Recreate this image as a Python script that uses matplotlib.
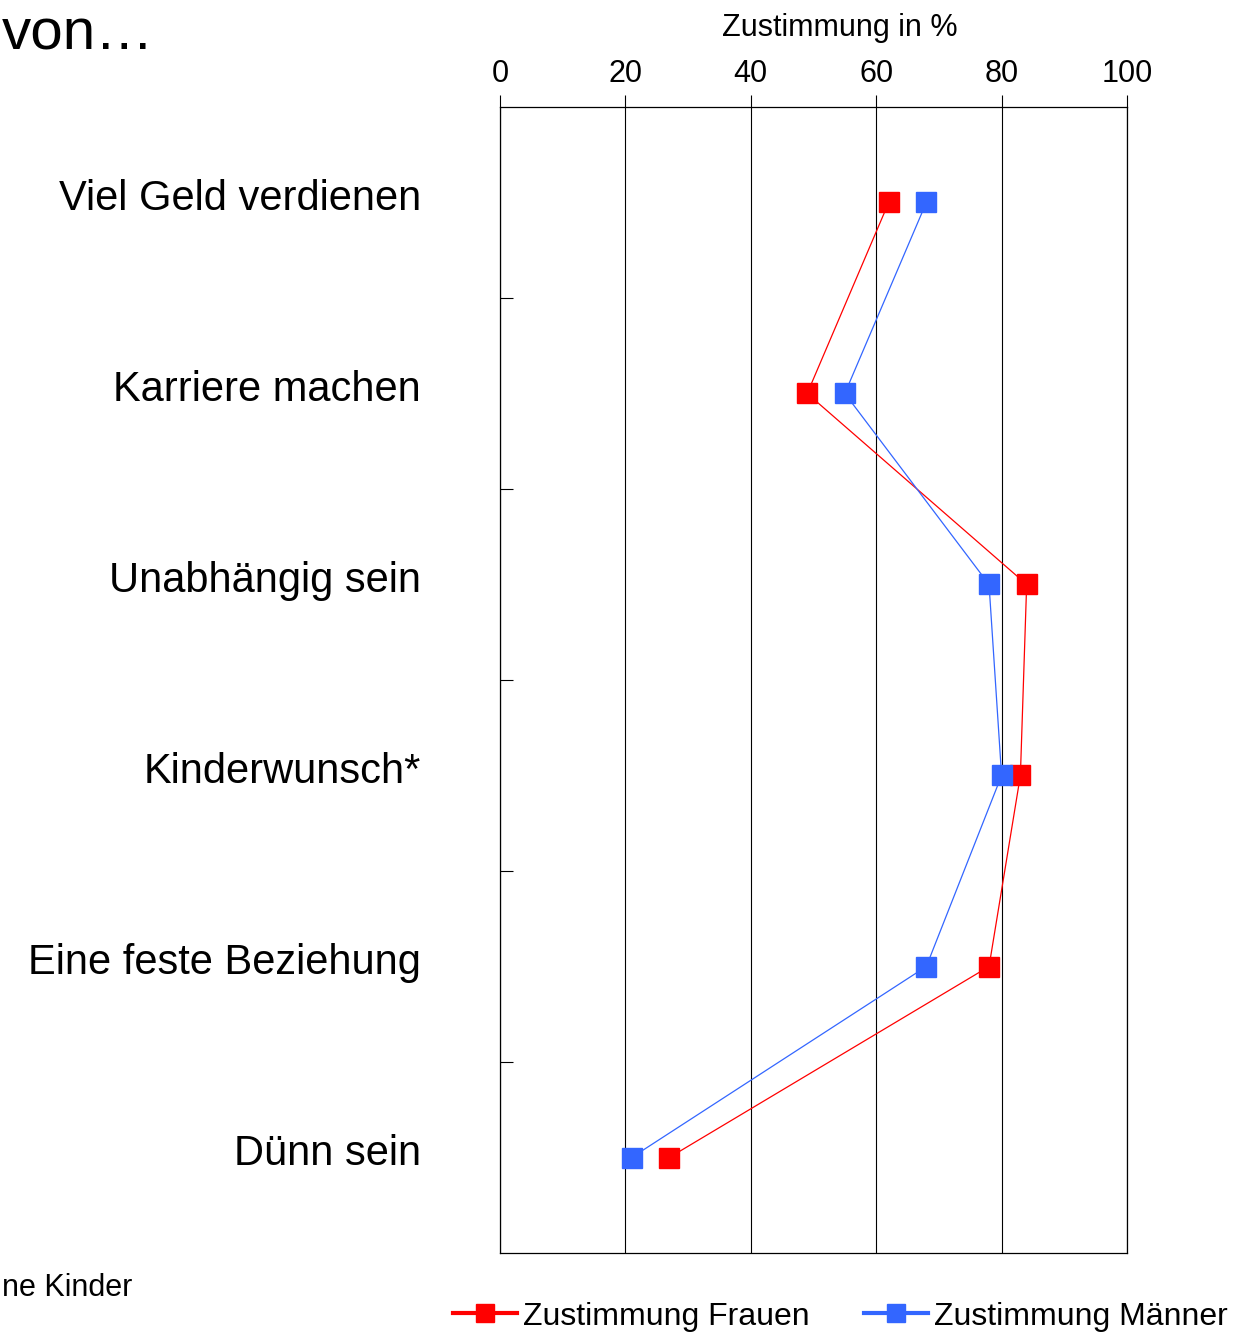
import numpy as np
import matplotlib
matplotlib.use("Agg")
import matplotlib.pyplot as plt
import matplotlib.transforms as mtransforms
from matplotlib.lines import Line2D

plt.rcParams['font.family'] = ['Liberation Sans', 'DejaVu Sans']

# Daten
kategorien = ['Viel Geld verdienen', 'Karriere machen', 'Unabhängig sein',
              'Kinderwunsch*', 'Eine feste Beziehung', 'Dünn sein']
frauen = [62, 49, 84, 83, 78, 27]
maenner = [68, 55, 78, 80, 68, 21]
x_ticks = [0, 20, 40, 60, 80, 100]

rot = '#FF0000'
blau = '#3366FF'

fig = plt.figure(figsize=(12.36, 13.42), dpi=100)
ax = fig.add_axes([0.4045, 0.0663, 0.5073, 0.854])

pos = np.arange(len(kategorien))
ax.plot(frauen, pos, color=rot, lw=0.9, marker='s', ms=14, mec=rot, mfc=rot, zorder=3)
ax.plot(maenner, pos, color=blau, lw=0.9, marker='s', ms=14, mec=blau, mfc=blau, zorder=3)

ax.set_xlim(0, 100)
ax.set_ylim(len(kategorien) - 0.5, -0.5)

# x-Achse oben
ax.xaxis.tick_top()
ax.set_xticks(x_ticks)
ax.tick_params(axis='x', direction='out', length=9, width=0.8, labelsize=22, pad=4)
ax.grid(axis='x', color='black', lw=0.8)
ax.set_xlabel('Zustimmung in %', fontsize=22)
ax.xaxis.set_label_position('top')
ax.xaxis.set_label_coords(0.542, 1.062)

# y-Achse: Kategorien (etwas nach oben versetzt) + kleine Striche dazwischen
ax.set_yticks(pos)
ax.set_yticklabels(kategorien, fontsize=30)
ax.tick_params(axis='y', length=0, pad=57)
versatz = mtransforms.ScaledTranslation(0, 0.08, fig.dpi_scale_trans)
for lbl in ax.get_yticklabels():
    lbl.set_transform(lbl.get_transform() + versatz)
ax.set_yticks(pos[:-1] + 0.5, minor=True)
ax.tick_params(axis='y', which='minor', direction='in', length=9, width=0.8)

for s in ax.spines.values():
    s.set_linewidth(0.9)

fig.text(0.125, 0.963, 'von…', fontsize=42, ha='right', va='baseline')
fig.text(0.107, 0.034, 'ne Kinder', fontsize=22, ha='right', va='baseline')

h1 = Line2D([], [], color=rot, lw=3, marker='s', ms=13)
h2 = Line2D([], [], color=blau, lw=3, marker='s', ms=13)
fig.legend([h1, h2], ['Zustimmung Frauen', 'Zustimmung Männer'],
           loc='center', bbox_to_anchor=(0.68, 0.019), ncol=2, frameon=False,
           fontsize=23, handlelength=2.0, handletextpad=0.2, columnspacing=1.7,
           borderpad=0)

fig.savefig('out.png', dpi=100)
